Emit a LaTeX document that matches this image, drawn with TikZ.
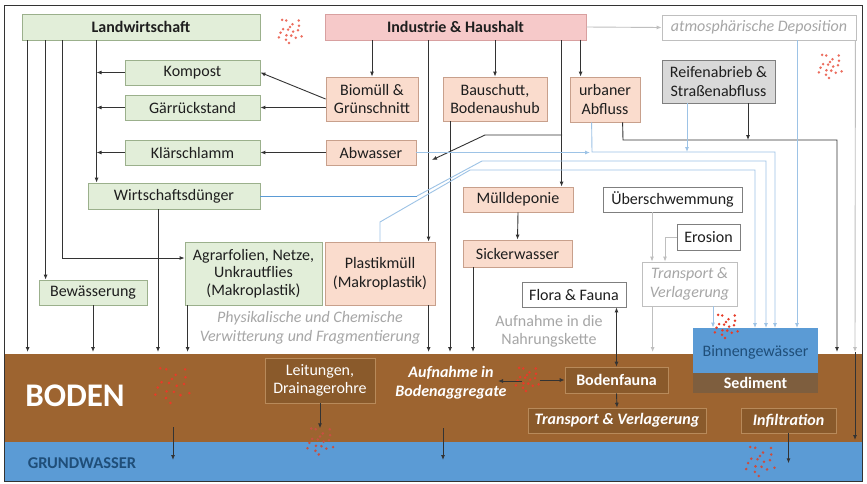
\documentclass[tikz,border=0pt]{standalone}
\usepackage{fontspec}
\setmainfont{Carlito}
\usetikzlibrary{arrows.meta}
\definecolor{gfill}{HTML}{E2EED9}
\definecolor{gdraw}{HTML}{9BB08C}
\definecolor{pfill}{HTML}{F6C9C9}
\definecolor{pdraw}{HTML}{D8A0A0}
\definecolor{ofill}{HTML}{FADCCD}
\definecolor{odraw}{HTML}{C8A08C}
\definecolor{grfill}{HTML}{D9D9D9}
\definecolor{grdraw}{HTML}{7F7F7F}
\definecolor{lgray}{HTML}{A6A6A6}
\definecolor{lline}{HTML}{BFBFBF}
\definecolor{lblue}{HTML}{9DC3E6}
\definecolor{mblue}{HTML}{5B9BD5}
\definecolor{soil}{HTML}{9D6430}
\definecolor{soilbox}{HTML}{8A5A2B}
\definecolor{soilbd}{HTML}{B88A5A}
\definecolor{sedfill}{HTML}{7E5E3E}
\definecolor{water}{HTML}{5B9BD5}
\definecolor{darkblue}{HTML}{1F4E79}
\definecolor{txt}{HTML}{1E1E1E}
\definecolor{dline}{HTML}{333333}
\definecolor{dotred}{HTML}{E63C28}
\newcommand\dotcl[3]{\begin{scope}[shift={(#1)}]\foreach \ang/\rad in {10/4,50/11,95/15,130/7,170/12,215/3,250/14,290/9,330/13,25/16,75/6,150/16,195/9,235/17,270/5,310/17,355/10,115/12}{\fill[#3] (\ang:{\rad*#2}) circle (1.4pt);}\end{scope}}
\begin{document}
\begin{tikzpicture}[x=1pt,y=-1pt,
  box/.style={rectangle, inner sep=1pt, align=center, font=\fontsize{16}{18.5}\selectfont, text=txt, line width=0.8pt},
  sz/.style 2 args={minimum width=#1, minimum height=#2},
  bf/.style={font=\fontsize{16}{18.5}\selectfont\bfseries},
  it/.style={font=\fontsize{16}{18.5}\selectfont\itshape},
  bfit/.style={font=\fontsize{16}{18.5}\selectfont\bfseries\itshape},
  gbox/.style={box, fill=gfill, draw=gdraw},
  pbox/.style={box, fill=pfill, draw=pdraw},
  obox/.style={box, fill=ofill, draw=odraw},
  grbox/.style={box, fill=grfill, draw=grdraw},
  wbox/.style={box, fill=white, draw=grdraw},
  sbox/.style={box, fill=soilbox, draw=soilbd, line width=0.6pt, text=white},
  plain/.style={box, draw=none, fill=none},
  arr/.style={-{Latex[length=5pt,width=4pt]}},
  dl/.style={draw=dline, line width=0.9pt},
  gl/.style={draw=lline, line width=0.9pt},
  bl/.style={draw=lblue, line width=0.9pt},
  ml/.style={draw=mblue, line width=0.9pt}]
\useasboundingbox (0,0) rectangle (867,483);
\fill[white] (0,0) rectangle (867,483);
\fill[soil] (5,354) rectangle (862,442);
\fill[water] (5,442) rectangle (862,481);
\draw[dline, line width=0.8pt] (4.5,5) rectangle (862,481);
\coordinate (stop) at (0,352);

% nodes
\node[gbox,bf,sz={238pt}{26pt}] (land) at (141,27) {Landwirtschaft};
\node[pbox,bf,sz={261pt}{26pt}] (ind) at (455.5,27) {Industrie \& Haushalt};
\node[wbox,draw=lline,text=lgray,it,sz={194pt}{25pt}] (atm) at (759,27.5) {atmosphärische Deposition};
\node[gbox,sz={135pt}{25pt}] (komp) at (192.5,72.5) {Kompost};
\node[gbox,sz={135pt}{25pt}] (gaer) at (192.5,107.5) {Gärrückstand};
\node[gbox,sz={135pt}{25pt}] (klaer) at (192.5,152.5) {Klärschlamm};
\node[gbox,sz={172pt}{26pt}] (wd) at (174,196) {Wirtschaftsdünger};
\node[obox,sz={92pt}{44pt}] (bio) at (372,99) {Biomüll \&\\Grünschnitt};
\node[obox,sz={104pt}{44pt}] (bau) at (495,99) {Bauschutt,\\Bodenaushub};
\node[obox,sz={70pt}{45pt}] (urb) at (605,99.5) {urbaner\\Abfluss};
\node[grbox,sz={113pt}{43pt}] (reif) at (718.5,81.5) {Reifenabrieb \&\\Straßenabfluss};
\node[obox,sz={90pt}{25pt}] (abw) at (371,152.5) {Abwasser};
\node[obox,sz={110pt}{25pt}] (muell) at (518,199.5) {Mülldeponie};
\node[obox,sz={109pt}{27pt}] (sick) at (517.5,253.5) {Sickerwasser};
\node[wbox,sz={139pt}{25pt}] (ueber) at (672.5,199.5) {Überschwemmung};
\node[wbox,sz={63pt}{26pt}] (eros) at (708.5,237) {Erosion};
\node[wbox,draw=lline,text=lgray,it,sz={95pt}{44pt}] (tr1) at (689.5,284) {Transport \&\\Verlagerung};
\node[wbox,sz={104pt}{25pt}] (flora) at (574,294.5) {Flora \& Fauna};
\node[obox,sz={110pt}{63pt}] (plast) at (380,273.5) {Plastikmüll\\(Makroplastik)};
\node[gbox,sz={137pt}{63pt},font=\fontsize{16}{17.5}\selectfont] (agrar) at (253.5,273.5) {Agrarfolien, Netze,\\Unkrautflies\\(Makroplastik)};
\node[gbox,sz={108pt}{25pt}] (bew) at (93,292.5) {Bewässerung};
\node[plain,text=lgray,font=\fontsize{16}{19}\selectfont\itshape] (phys) at (310,327.5) {Physikalische und Chemische\\Verwitterung und Fragmentierung};
\node[plain,text=lgray,font=\fontsize{16}{18}\selectfont] (nahr) at (549,331) {Aufnahme in die\\Nahrungskette};
\node[box,fill=water,draw=none,text=darkblue,sz={125pt}{45pt},text depth=-4pt] (binnen) at (755.5,350.5) {Binnengewässer};
\node[box,fill=sedfill,draw=none,text=white,bf,sz={125pt}{20pt}] (sed) at (755.5,383) {Sediment};
\node[sbox,sz={110pt}{45pt}] (leit) at (320,380.5) {Leitungen,\\Drainagerohre};
\node[sbox,bf,sz={103pt}{26pt}] (bfauna) at (616.5,380) {Bodenfauna};
\node[sbox,bfit,sz={178pt}{25pt}] (tr2) at (617,420.5) {Transport \& Verlagerung};
\node[sbox,bfit,sz={95pt}{25pt}] (infil) at (788.5,420.5) {Infiltration};
\node[plain,text=white,font=\fontsize{16}{19}\selectfont\bfseries\itshape] (aggr) at (451,383) {Aufnahme in\\Bodenaggregate};
\node[plain,text=white,font=\fontsize{33}{36}\selectfont\bfseries] (boden) at (75,396) {BODEN};
\node[plain,text=darkblue,font=\fontsize{16.5}{18}\selectfont\bfseries] (gw) at (82,463) {GRUNDWASSER};

% dots
\dotcl{290,31}{0.8}{dotred!75}
\dotcl{830,66}{0.8}{dotred!75}
\dotcl{172,385}{1.2}{dotred}
\dotcl{320,441}{0.9}{dotred!70!gray}
\dotcl{527,379}{0.8}{dotred}
\dotcl{760,461}{1.0}{dotred!75!gray}
\dotcl{726,326}{0.8}{dotred}

% Landwirtschaft connectors
\draw[dl,arr] ([xshift=6pt]land.south west) coordinate (l1) -- (l1 |- stop);
\draw[dl,arr] ([xshift=24pt]land.south west) coordinate (l2) -- (l2 |- bew.north);
\draw[dl,arr] ([xshift=41pt]land.south west) |- ([yshift=15.5pt]agrar.west);
\draw[dl,arr] ([xshift=75pt]land.south west) coordinate (l4) -- (l4 |- wd.north);
\draw[dl,arr] (komp.west) -- (komp.west -| l4);
\draw[dl,arr] (gaer.west) -- (gaer.west -| l4);
\draw[dl,arr] (klaer.west) -- (klaer.west -| l4);
\draw[dl,arr] (bew.south) -- (bew.south |- stop);
\draw[dl,arr] ([xshift=-16pt]wd.south) coordinate (w1) -- (w1 |- stop);
\draw[dl,arr] ([xshift=3pt]agrar.south west) coordinate (a1) -- (a1 |- stop);

% Industrie connectors
\draw[dl,arr] (ind.south -| bio.north) -- (bio.north);
\draw[dl,arr] (ind.south -| bau.north) -- (bau.north);
\draw[dl,arr] ([xshift=11pt]urb.north west) coordinate (u0) ++(0,-37) -- (u0);
\draw[dl,arr] ([xshift=104pt]ind.south west) coordinate (i1) -- (i1 |- plast.north);
\draw[dl,arr] ([xshift=237pt]ind.south west) coordinate (i2) -- (i2 |- muell.north);
\draw[dl,arr] (562,135) -- (485,135) -- (432,160);
\draw[gl,arr] (ind.east) -- (atm.west);
\draw[dl,arr] (bio.west) -- (komp.east);
\draw[dl,arr] (bio.west |- gaer.east) -- (gaer.east);
\draw[dl,arr] (abw.west) -- (klaer.east);
\draw[dl,arr] ([xshift=-45pt]bau.south) coordinate (b1) -- (b1 |- stop);
\draw[dl,arr] (i1 |- plast.south) -- (i1 |- stop);
\draw[dl,arr] ([xshift=-44.5pt]sick.south) coordinate (s1) -- (s1 |- stop);
\draw[dl,arr] (muell.south) -- (sick.north);

% urban / road lines
\draw[bl,arr] (abw.east) -- (590,152.5);
\draw[bl,arr] ([xshift=22pt]urb.south west) -- (592,152) -- (775,152) -- (775,328);
\draw[dl,arr] ([xshift=53pt]urb.south west) -- (623,140) -- (837,140) -- (837,352);
\draw[dl,arr] ([xshift=29.5pt]reif.south) -- (748,140);
\draw[bl,arr] ([xshift=-31.5pt]reif.south) -- (687,152);
\draw[ml] (wd.east) -- (417,196);
\draw[bl,arr] (417,196) -- (482,161) -- (766,161) -- (766,328);
\draw[bl,arr] (plast.north) -- (380,222) -- (470,170) -- (755,170) -- (755,328);
\draw[bl,arr] ([xshift=38pt]atm.south) -- (797,328);
\draw[gl,arr] ([xshift=-1pt]atm.south east) -- (855,352);
\draw[dl,arr] (855,352) -- (855,440);

% flooding / erosion
\draw[gl,arr] ([xshift=-20.5pt]ueber.south) -- ([xshift=-37.5pt]tr1.north);
\draw[gl,arr] (eros.west) -| ([xshift=-24.5pt]tr1.north);
\draw[gl,arr] ([xshift=11pt]tr1.south west) coordinate (t1) -- (t1 |- stop);
\draw[bl,arr] ([xshift=23.5pt]tr1.south) coordinate (t2) -- (t2 |- binnen.north);

% soil
\draw[dl,{Latex[length=5pt,width=4pt]}-{Latex[length=5pt,width=4pt]}] (bfauna.north) -- (bfauna.north |- flora.south);
\draw[dl,arr] (bfauna.south) -- (tr2.north);
\draw[dl,arr] (522,381) -- (498,381);
\draw[dl,arr] (540,380) -- (bfauna.west);
\draw[dl,arr] (leit.south) -- ++(0,25);
\draw[dl,arr] (173,427) -- (173,460);
\draw[dl,arr] (443,428) -- (443,460);
\draw[dl,arr] (infil.south) -- ++(0,30);
\end{tikzpicture}
\end{document}
